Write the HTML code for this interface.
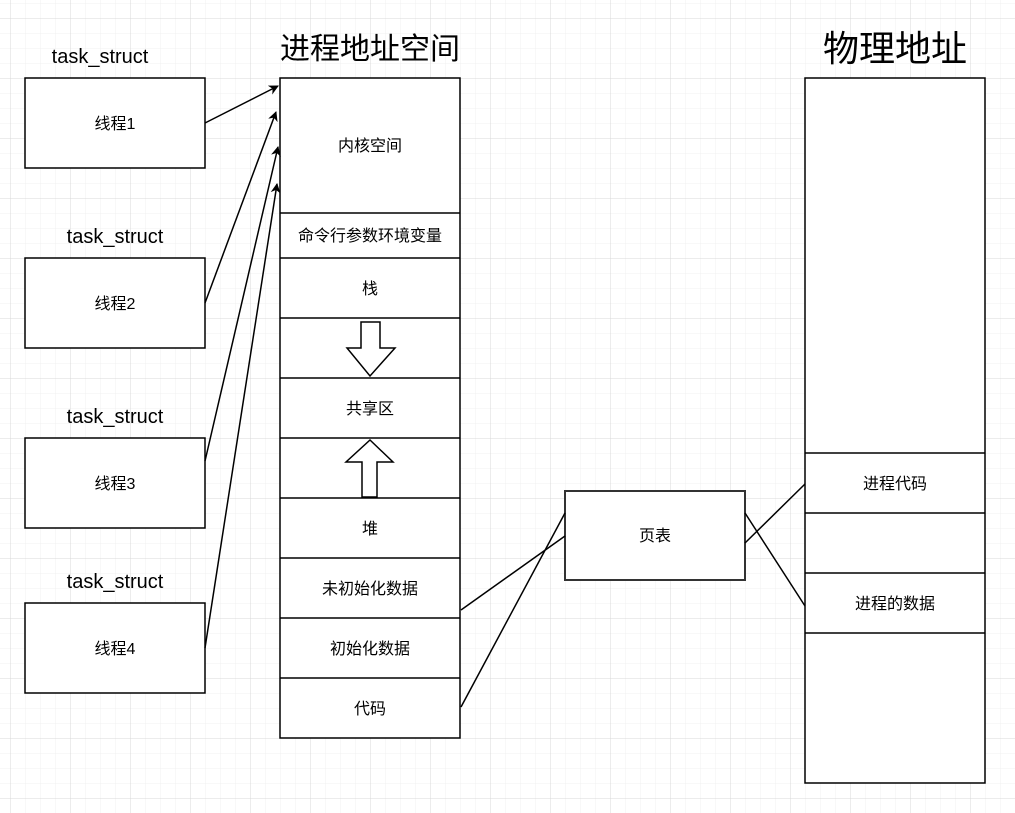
<!DOCTYPE html>
<html><head><meta charset="utf-8"><style>
html,body{margin:0;padding:0;background:#fff;}
svg{display:block;}
text{font-family:"Liberation Sans","Noto Sans CJK SC",sans-serif;fill:#000;}
</style></head><body>
<svg width="1015" height="813" xmlns="http://www.w3.org/2000/svg">
<defs>
<pattern id="minor" width="15" height="15" patternUnits="userSpaceOnUse" x="10" y="3">
<path d="M0 0H15M0 0V15" stroke="#f0f0f0" stroke-width="1" fill="none"/>
</pattern>
<pattern id="major" width="60" height="60" patternUnits="userSpaceOnUse" x="10" y="18">
<path d="M0 0H60M0 0V60" stroke="#d8d8d8" stroke-width="1" fill="none"/>
</pattern>
<marker id="ah" markerWidth="10" markerHeight="10" refX="9" refY="5" orient="auto" markerUnits="userSpaceOnUse">
<path d="M0,0 L10,5 L0,10 L3,5 Z" fill="#000"/>
</marker>
</defs>
<rect width="1015" height="813" fill="#fff"/>
<rect width="1015" height="813" fill="url(#minor)"/>
<rect width="1015" height="813" fill="url(#major)"/>

<g fill="#fff" stroke="#000" stroke-width="1.5">
<rect x="25" y="78" width="180" height="90"/>
<rect x="25" y="258" width="180" height="90"/>
<rect x="25" y="438" width="180" height="90"/>
<rect x="25" y="603" width="180" height="90"/>
<rect x="280" y="78" width="180" height="660"/>
<rect x="805" y="78" width="180" height="705"/>
</g>
<rect x="565" y="491" width="180" height="89" fill="#fff" stroke="#333" stroke-width="2"/>
<g stroke="#000" stroke-width="1.5">
<line x1="280" y1="213" x2="460" y2="213"/>
<line x1="280" y1="258" x2="460" y2="258"/>
<line x1="280" y1="318" x2="460" y2="318"/>
<line x1="280" y1="378" x2="460" y2="378"/>
<line x1="280" y1="438" x2="460" y2="438"/>
<line x1="280" y1="498" x2="460" y2="498"/>
<line x1="280" y1="558" x2="460" y2="558"/>
<line x1="280" y1="618" x2="460" y2="618"/>
<line x1="280" y1="678" x2="460" y2="678"/>
<line x1="805" y1="453" x2="985" y2="453"/>
<line x1="805" y1="513" x2="985" y2="513"/>
<line x1="805" y1="573" x2="985" y2="573"/>
<line x1="805" y1="633" x2="985" y2="633"/>
</g>
<g fill="#fff" stroke="#000" stroke-width="1.5">
<path d="M361,322 H380 V348 H395 L370,376 L347,348 H361 Z"/>
<path d="M370,440 L393,462 H377 V497 H362 V462 H346 Z"/>
</g>
<g stroke="#000" stroke-width="1.5" fill="none" marker-end="url(#ah)">
<line x1="205" y1="123" x2="278" y2="86"/>
<line x1="205" y1="303" x2="276" y2="112"/>
<line x1="205" y1="461" x2="278" y2="147"/>
<line x1="205" y1="648" x2="277" y2="184"/>
</g>
<g stroke="#000" stroke-width="1.5">
<line x1="461" y1="610" x2="565" y2="536"/>
<line x1="461" y1="707" x2="565" y2="513"/>
<line x1="745" y1="543" x2="805" y2="484"/>
<line x1="745" y1="513" x2="805" y2="606"/>
</g>
<g font-size="20" text-anchor="middle">
<text x="100" y="63">task_struct</text>
<text x="115" y="243">task_struct</text>
<text x="115" y="423">task_struct</text>
<text x="115" y="588">task_struct</text>
</g>
<text x="370" y="59" font-size="30" text-anchor="middle">进程地址空间</text>
<text x="895" y="61" font-size="36" text-anchor="middle">物理地址</text>
<g font-size="16" text-anchor="middle">
<text x="115" y="129">线程1</text>
<text x="115" y="309">线程2</text>
<text x="115" y="489">线程3</text>
<text x="115" y="654">线程4</text>
<text x="370" y="151">内核空间</text>
<text x="370" y="241">命令行参数环境变量</text>
<text x="370" y="294">栈</text>
<text x="370" y="414">共享区</text>
<text x="370" y="534">堆</text>
<text x="370" y="594">未初始化数据</text>
<text x="370" y="654">初始化数据</text>
<text x="370" y="714">代码</text>
<text x="655" y="541">页表</text>
<text x="895" y="489">进程代码</text>
<text x="895" y="609">进程的数据</text>
</g>
</svg>
</body></html>
